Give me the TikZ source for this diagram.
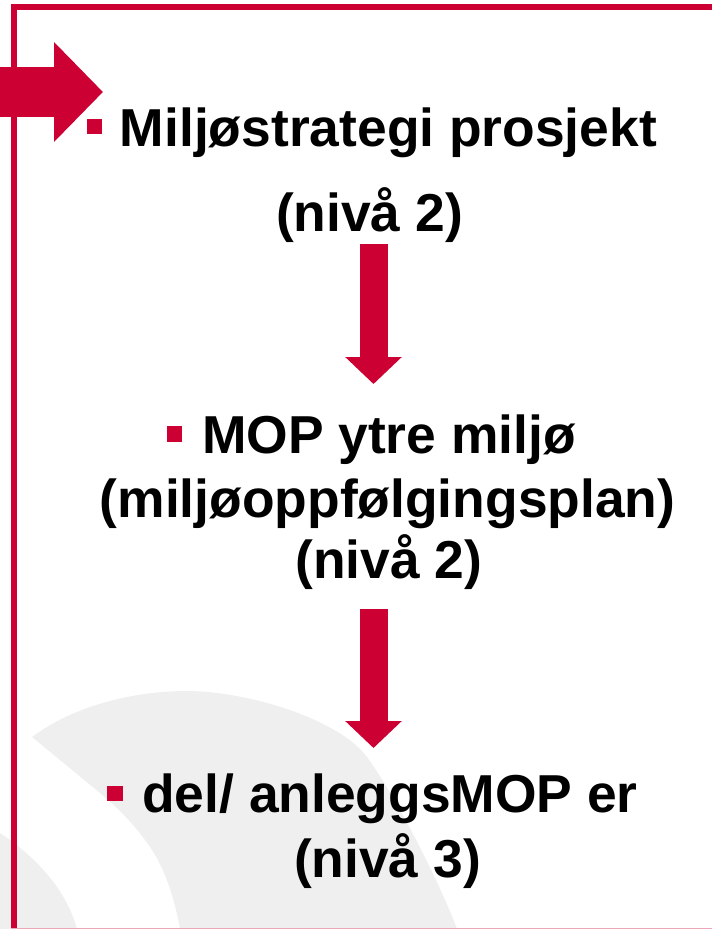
\documentclass[tikz,border=0pt]{standalone}
\usepackage{fontspec}
\setmainfont{Liberation Sans}
\definecolor{sjred}{RGB}{204, 0, 51}
\definecolor{swoosh}{RGB}{239, 239, 239}
\usepackage{tikz}
\usetikzlibrary{
  arrows.meta,
  positioning
}

\begin{document}
\begin{tikzpicture}[
  x=1pt, y=-1pt,
  lbl/.style={
    anchor=base, inner sep=0pt, font=\bfseries\fontsize{53.4}{62}\selectfont
  },
  bul/.style={
    fill=sjred, inner sep=0pt, minimum size=15.5pt
  },
  bigarrow/.style={
    sjred, line width=28pt, -{Triangle[length=27pt, width=55pt]}
  }
]
\useasboundingbox (0,0) rectangle (712,929);

% background swoosh
\fill[swoosh] (32,737) .. controls (75,705) and (135,691) .. (187,691)
  .. controls (245,691) and (338,718) .. (367,757)
  .. controls (402,806) and (443,891) .. (457,929)
  -- (180,929) .. controls (172,885) and (160,862) .. (150,847)
  .. controls (135,825) and (118,808) .. (100,793) -- cycle;
\fill[swoosh] (0,833) .. controls (30,853) and (65,885) .. (77,929)
  -- (0,929) -- cycle;

% frame
\fill[sjred] (11,4) rectangle (712,10);
\fill[sjred] (11,4) rectangle (17,929);
\fill[sjred!35] (11,927.5) rectangle (712,929);

% entry arrow
\coordinate (inL) at (0,92);
\coordinate (inR) at (103,92);
\draw[sjred, line width=50pt, -{Triangle[length=49pt, width=97pt]}] (inL) -- (inR);

% texts
\node[bul] (b1) at (94.5,126.5) {};
\node[lbl] (strat) at (388.5,146) {Miljøstrategi prosjekt};
\node[lbl] (strat2) at (369.5,231) {(nivå 2)};

\node[bul] (b2) at (174.5,434) {};
\node[lbl] (mop) at (389,453) {MOP ytre miljø};
\node[lbl] (mop2) at (387.5,517) {(miljøoppfølgingsplan)};
\node[lbl] (mop3) at (389,578) {(nivå 2)};

\node[bul] (b3) at (115,793.5) {};
\node[lbl] (del) at (390,812) {del/ anleggsMOP er};
\node[lbl] (del2) at (387.5,877) {(nivå 3)};

% arrows between levels
\coordinate (a1top) at (373.5,244);
\coordinate (a1tip) at (373.5,384);
\coordinate (a2top) at (373.5,609);
\coordinate (a2tip) at (373.5,748);
\draw[bigarrow] (a1top) -- (a1tip);
\draw[bigarrow] (a2top) -- (a2tip);
\end{tikzpicture}
\end{document}
